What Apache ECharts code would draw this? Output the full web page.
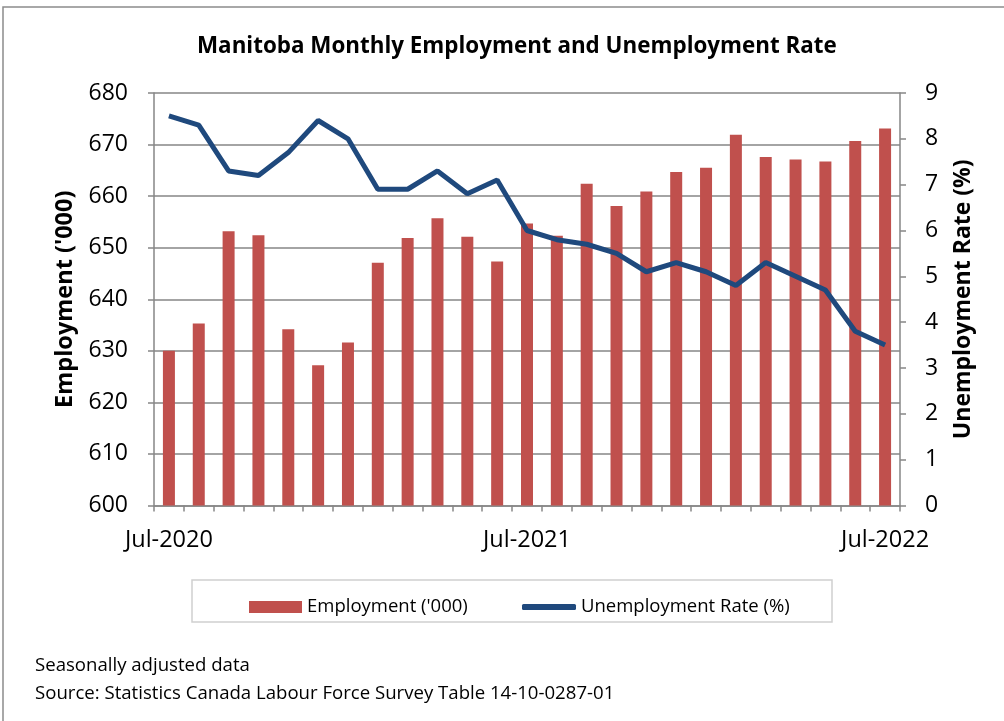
<!DOCTYPE html>
<html>
<head>
<meta charset="utf-8">
<script src="https://cdn.jsdelivr.net/npm/echarts@6/dist/echarts.min.js"></script>
<style>html,body{margin:0;padding:0;background:#fff;}#c{width:1004px;height:721px;}</style>
</head>
<body>
<div id="c"></div>
<script>
const months = ["Jul-2020","Aug-2020","Sep-2020","Oct-2020","Nov-2020","Dec-2020","Jan-2021","Feb-2021","Mar-2021","Apr-2021","May-2021","Jun-2021","Jul-2021","Aug-2021","Sep-2021","Oct-2021","Nov-2021","Dec-2021","Jan-2022","Feb-2022","Mar-2022","Apr-2022","May-2022","Jun-2022","Jul-2022"];
const employment = [630.0, 635.3, 653.2, 652.4, 634.2, 627.2, 631.6, 647.1, 651.9, 655.7, 652.1, 647.3, 654.7, 652.3, 662.4, 658.1, 660.9, 664.7, 665.5, 671.9, 667.6, 667.1, 666.7, 670.7, 673.1];
const unemploymentRate = [8.5, 8.3, 7.3, 7.2, 7.7, 8.4, 8.0, 6.9, 6.9, 7.3, 6.8, 7.1, 6.0, 5.8, 5.7, 5.5, 5.1, 5.3, 5.1, 4.8, 5.3, 5.0, 4.7, 3.8, 3.5];
const titleText = "Manitoba Monthly Employment and Unemployment Rate";
const noteLines = ["Seasonally adjusted data", "Source: Statistics Canada Labour Force Survey Table 14-10-0287-01"];

const FONT = "'Open Sans', 'Noto Sans', sans-serif";
const chart = echarts.init(document.getElementById('c'), null, {renderer: 'canvas'});
const legendText = {fontFamily: FONT, fontSize: 18.5, color: '#000', lineHeight: 24};
chart.setOption({
  animation: false,
  backgroundColor: '#fff',
  textStyle: {fontFamily: FONT},
  title: {
    text: titleText, left: 192, top: 31,
    textStyle: {fontFamily: FONT, fontSize: 22.4, fontWeight: 'bold', color: '#000'}
  },
  grid: {left: 154, right: 104, top: 93, bottom: 215.5, containLabel: false},
  legend: [
    {
      left: 244, top: 590, itemWidth: 53, itemHeight: 12, itemGap: 5, textStyle: legendText,
      data: [{name: "Employment ('000)", icon: 'rect'}]
    },
    {
      left: 517, top: 590, itemWidth: 54, itemHeight: 6, textStyle: legendText,
      data: [{name: "Unemployment Rate (%)", icon: 'roundRect', itemStyle: {color: '#1F497D'}}]
    }
  ],
  xAxis: {
    type: 'category', data: months, boundaryGap: true,
    axisLine: {lineStyle: {color: '#868686', width: 1.5}},
    axisTick: {show: true, interval: 0, alignWithLabel: false, length: 6, lineStyle: {color: '#868686', width: 1.5}},
    axisLabel: {interval: 11, fontSize: 23.5, color: '#000', margin: 23, fontFamily: FONT},
    splitLine: {show: false}
  },
  yAxis: [
    {
      type: 'value', min: 600, max: 680, interval: 10, position: 'left',
      name: "Employment ('000)", nameLocation: 'middle', nameGap: 76, nameRotate: 90,
      nameTextStyle: {fontFamily: FONT, fontSize: 23.5, fontWeight: 'bold', color: '#000'},
      axisLine: {show: true, lineStyle: {color: '#868686', width: 1.5}},
      axisTick: {show: true, length: 6, lineStyle: {color: '#868686', width: 1.5}},
      axisLabel: {fontSize: 23, color: '#000', margin: 26, fontFamily: FONT},
      splitLine: {show: true, lineStyle: {color: '#868686', width: 1.5}}
    },
    {
      type: 'value', min: 0, max: 9, interval: 1, position: 'right',
      name: "Unemployment Rate (%)", nameLocation: 'middle', nameGap: 52, nameRotate: 90,
      nameTextStyle: {fontFamily: FONT, fontSize: 23, fontWeight: 'bold', color: '#000'},
      axisLine: {show: true, lineStyle: {color: '#868686', width: 1.5}},
      axisTick: {show: true, length: 6, lineStyle: {color: '#868686', width: 1.5}},
      axisLabel: {fontSize: 23, color: '#000', margin: 25, fontFamily: FONT},
      splitLine: {show: false}
    }
  ],
  series: [
    {
      name: "Employment ('000)", type: 'bar', data: employment, yAxisIndex: 0,
      barWidth: 12, itemStyle: {color: '#C0504D'}
    },
    {
      name: "Unemployment Rate (%)", type: 'line', data: unemploymentRate, yAxisIndex: 1,
      symbol: 'none', lineStyle: {color: '#1F497D', width: 5}, itemStyle: {color: '#1F497D'}
    }
  ],
  graphic: [
    {type: 'rect', shape: {x: 3, y: 7, width: 1100, height: 800}, style: {fill: 'none', stroke: '#8c8c8c', lineWidth: 1.5}, silent: true},
    {type: 'rect', shape: {x: 192, y: 580, width: 640, height: 42}, style: {fill: 'none', stroke: '#d0d0d0', lineWidth: 1.5}, silent: true},
    {type: 'text', x: 35, y: 666, style: {text: noteLines[0], font: "18.6px " + FONT, fill: '#000', textVerticalAlign: 'middle'}},
    {type: 'text', x: 35, y: 694, style: {text: noteLines[1], font: "18.6px " + FONT, fill: '#000', textVerticalAlign: 'middle'}}
  ]
});
</script>
</body>
</html>
